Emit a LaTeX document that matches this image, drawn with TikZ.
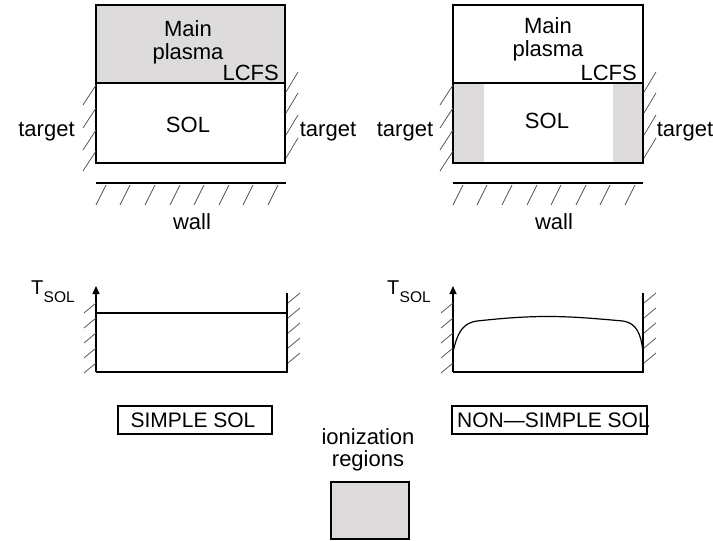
\documentclass[tikz,border=0pt]{standalone}
\usepackage{fontspec}
\setmainfont{Liberation Sans}
\usetikzlibrary{arrows.meta}
\definecolor{iongray}{RGB}{221,219,219}
\definecolor{hatchc}{RGB}{80,80,80}
\begin{document}
\begin{tikzpicture}[x=1pt,y=-1pt,
  box/.style={line width=1.5pt, line join=miter},
  hatch/.style={line width=0.75pt, hatchc},
  lbl/.style={font=\fontsize{22}{26}\selectfont, inner sep=0pt, anchor=base},
  lblsm/.style={font=\fontsize{21}{25}\selectfont, inner sep=0pt, anchor=base},
  axisarrow/.style={line width=1.5pt, -{Triangle[length=8pt,width=7pt]}},
  tmain/.style={font=\fontsize{20}{20}\selectfont, inner sep=0pt, anchor=base west},
  tsub/.style={font=\fontsize{15.5}{15.5}\selectfont, inner sep=0pt, anchor=base west}]
\useasboundingbox (0,0) rectangle (713,541);

% ===== top left: simple SOL geometry =====
\fill[iongray] (96,5) rectangle (285,83);
\draw[box] (96,5) rectangle (285,163);
\draw[box] (96,83) -- (285,83);
\foreach \y in {85,108,130,151} \draw[hatch] (96,\y) -- ++(-13,20);
\foreach \y in {92,113,135,158} \draw[hatch] (286,\y) -- ++(12,-20);
\draw[box] (96,183) -- (286,183);
\foreach \x in {106,130,155,180,204,229,253,278} \draw[hatch] (\x,185) -- ++(-10,20);
\node[lbl] (mainL) at (188,36) {Main};
\node[lbl] (plasmaL) at (188,59) {plasma};
\node[lbl, anchor=base east] (lcfsL) at (279,80) {LCFS};
\node[lbl] (solL) at (188,132) {SOL};
\node[lbl] (targetLL) at (46.5,136) {target};
\node[lbl] (targetLR) at (328,136) {target};
\node[lbl] (wallL) at (192,229) {wall};

% ===== top right: non-simple SOL geometry =====
\draw[box] (453,5) rectangle (643,83);
\fill[iongray] (453,83) rectangle (484,163);
\fill[iongray] (613,83) rectangle (643,163);
\draw[box] (453,83) rectangle (643,163);
\foreach \y in {85,108,130,151} \draw[hatch] (453,\y) -- ++(-13,20);
\foreach \y in {92,113,135,158} \draw[hatch] (644,\y) -- ++(12,-20);
\draw[box] (453,183) -- (643,183);
\foreach \x in {463,487,512,537,561,586,610,635} \draw[hatch] (\x,185) -- ++(-10,20);
\node[lbl] (mainR) at (548,33) {Main};
\node[lbl] (plasmaR) at (548,56) {plasma};
\node[lbl, anchor=base east] (lcfsR) at (637,80) {LCFS};
\node[lbl] (solR) at (547,128) {SOL};
\node[lbl] (targetRL) at (405,136) {target};
\node[lbl] (targetRR) at (685,136) {target};
\node[lbl] (wallR) at (554,229) {wall};

% ===== bottom left: simple SOL profile =====
\draw[axisarrow] (96,372) -- (96,286);
\draw[box] (96,372) -- (287,372) -- (287,293);
\draw[box] (96,313) -- (287,313);
\foreach \y in {303,318,333,348,363} \draw[hatch] (96,\y) -- ++(-12,10);
\foreach \y in {303,318,333,348,363} \draw[hatch] (288,\y) -- ++(12,-10);
\node[tmain] (tL) at (31,294) {T};
\node[tsub] (tsubL) at (43.5,302) {SOL};
\draw[line width=1.2pt] (118,406) rectangle (272,434);
\node[lblsm] (simple) at (193,427) {SIMPLE SOL};

% ===== bottom right: non-simple SOL profile =====
\draw[axisarrow] (453,372) -- (453,286);
\draw[box] (453,372) -- (643,372) -- (643,293);
\foreach \y in {303,318,333,348,363} \draw[hatch] (453,\y) -- ++(-12,10);
\foreach \y in {303,318,333,348,363} \draw[hatch] (644,\y) -- ++(12,-10);
\draw[line width=1.2pt] (453,352) .. controls (458,330) and (464,323) .. (477,321)
  .. controls (505,318) and (525,316.5) .. (548,316.5)
  .. controls (575,316.5) and (600,319) .. (623,321)
  .. controls (636,323) and (641,333) .. (643,352);
\node[tmain] (tR) at (387,294) {T};
\node[tsub] (tsubR) at (399.5,302) {SOL};
\draw[line width=1.2pt] (452,406) rectangle (647,434);
\node[lblsm, anchor=base west] (nonsimple) at (457,427) {NON—SIMPLE SOL};

% ===== legend =====
\node[lbl] (ioniz) at (368,444) {ionization};
\node[lbl] (regions) at (368,466) {regions};
\draw[box, fill=iongray] (331,482) rectangle (409,539);
\end{tikzpicture}
\end{document}
